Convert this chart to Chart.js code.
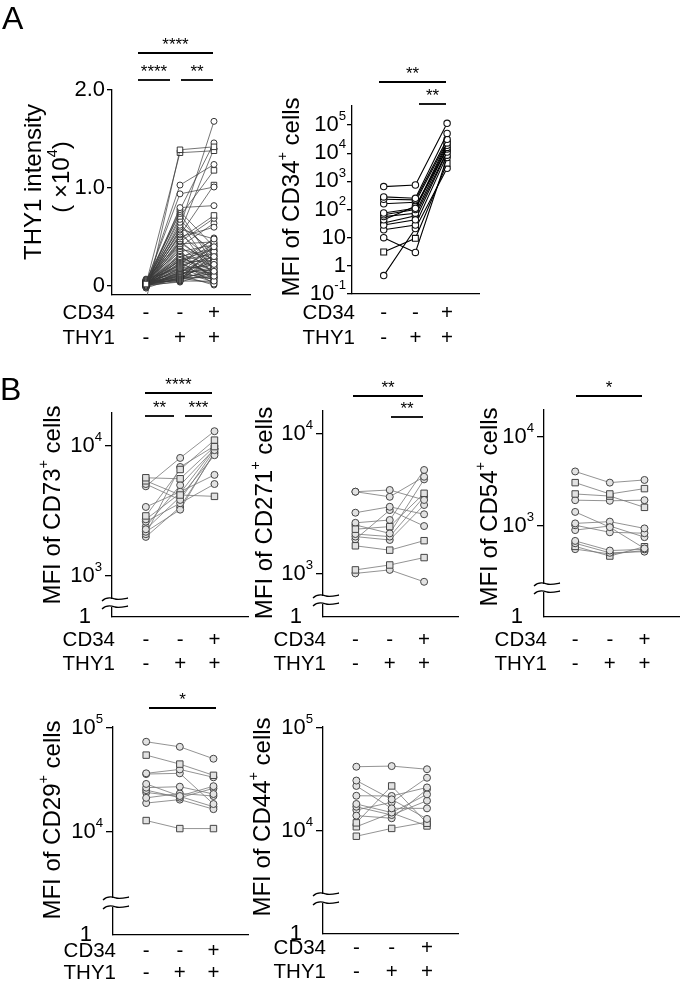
<!DOCTYPE html>
<html lang="en">
<head>
<meta charset="UTF-8">
<title>THY1 / CD34 MFI panels</title>
<script src="https://cdn.jsdelivr.net/npm/chart.js"></script>
<style>
  body { margin: 0; background: #fff; }
  #page { position: relative; width: 685px; height: 982px; overflow: hidden; }
  .panel { position: absolute; }
</style>
</head>
<body>
<div id="page"></div>
<script>
const FONT = "'Liberation Sans', Arial, Helvetica, sans-serif"

// ---------- data ----------
const cd34Row = ['-', '-', '+']
const thy1Row = ['-', '+', '+']

// A left: THY1 intensity (x10^4), one entry per sample
const thyNeg = [
  -0.15, 0.02, 0.01, 0.03, 0.00, 0.04, 0.02, 0.05, 0.01, 0.03,
  0.00, 0.02, 0.06, 0.01, 0.03, 0.04, 0.00, 0.02, 0.05, 0.01,
  0.03, -0.01, 0.02, 0.04, 0.00, 0.03, 0.01, 0.06, 0.02, 0.00,
  0.04, 0.01, 0.03, -0.02, 0.02, 0.05, 0.00, 0.03, 0.01, 0.04,
  0.02, 0.00, 0.07, 0.01, 0.03, 0.02, -0.01, 0.04, 0.00, 0.02,
  0.05, 0.01, 0.03, 0.00, 0.02, 0.04, 0.01, -0.02, 0.03, 0.02,
  0.00, 0.05, 0.01, 0.03, 0.02, 0.04, 0.00, 0.01, 0.03, 0.02,
  0.06, 0.01]
const thyMid = [
  1.39, 1.36, 1.03, 0.94, 0.80, 0.78, 0.76, 0.74, 0.71, 0.68,
  0.65, 0.62, 0.60, 0.58, 0.57, 0.55, 0.53, 0.52, 0.50, 0.48,
  0.46, 0.45, 0.43, 0.41, 0.40, 0.38, 0.36, 0.35, 0.33, 0.32,
  0.30, 0.29, 0.28, 0.27, 0.26, 0.25, 0.24, 0.23, 0.22, 0.21,
  0.20, 0.19, 0.18, 0.18, 0.17, 0.16, 0.15, 0.15, 0.14, 0.13,
  0.13, 0.12, 0.12, 0.11, 0.11, 0.10, 0.10, 0.09, 0.09, 0.08,
  0.08, 0.07, 0.07, 0.06, 0.06, 0.05, 0.05, 0.04, 0.22, 0.31,
  0.44, 0.27]
const thyPos = [
  1.42, 1.38, 1.24, 1.01, 0.82, 1.46, 0.40, 0.22, 1.18, 0.30,
  0.15, 0.35, 1.68, 0.48, 0.10, 1.40, 0.25, 1.03, 0.60, 0.72,
  0.18, 0.69, 0.45, 0.12, 0.64, 0.28, 0.05, 0.42, 0.20, 0.08,
  0.38, 0.16, 0.47, 0.11, 0.33, 0.02, 0.26, 0.43, 0.14, 0.30,
  0.09, 0.36, 0.21, 0.06, 0.40, 0.13, 0.24, 0.04, 0.31, 0.17,
  0.07, 0.44, 0.19, 0.01, 0.28, 0.12, 0.35, 0.08, 0.23, 0.15,
  0.03, 0.27, 0.10, 0.41, 0.18, 0.05, 0.32, 0.14, 0.49, 0.09,
  0.22, 0.37]
const thyShape = ('ssccccccsc' + 'cccccccscs' + 'c'.repeat(52)).split('')

// A right: MFI of CD34+ cells
const cd34Neg = [650, 280, 230, 75, 65, 56, 43, 28, 19, 10, 3.1, 0.45, 160, 33]
const cd34Mid = [740, 250, 220, 110, 100, 74, 130, 43, 28, 3.0, 9.5, 21, 180, 60]
const cd34Pos = [115000, 50000, 31000, 23000, 19000, 16000, 14000, 11000, 8500, 7000, 4400, 2900, 26000, 12000]
const cd34Shape = 'ccccccccccsccc'.split('')

// B: MFI of CD73+ cells
const cd73Neg = [5700, 5400, 2900, 5100, 4900, 3400, 2730, 2620, 2290, 2190, 2100, 2000, 2400]
const cd73Mid = [5600, 4200, 6600, 3850, 8100, 4450, 4330, 3630, 4070, 3240, 6900, 3400, 5000]
const cd73Pos = [9900, 4100, 11100, 9300, 13000, 6000, 9600, 5100, 8500, 9000, 10000, 8800, 9500]
const cd73Shape = 'ssscccccccccc'.split('')

// B: MFI of CD271+ cells
const cd271Neg = [3870, 3870, 2740, 1590, 1070, 2090, 2320, 2240, 1930, 1850, 1770, 1010]
const cd271Mid = [3980, 3560, 3020, 1480, 1160, 2180, 2430, 1950, 1850, 1750, 2860, 1070]
const cd271Pos = [3380, 4950, 2670, 1730, 1310, 3770, 5530, 4740, 3560, 3110, 2200, 880]
const cd271Shape = 'cccssscccccc'.split('')

// B: MFI of CD54+ cells
const cd54Neg = [4100, 3070, 2290, 1950, 1440, 1070, 1020, 900, 680, 640, 590, 550]
const cd54Mid = [3070, 2290, 2170, 1920, 970, 1120, 850, 1000, 530, 500, 460, 485]
const cd54Pos = [3290, 2630, 1620, 1950, 560, 940, 830, 750, 547, 515, 585, 530]
const cd54Shape = 'csscccccccsc'.split('')

// B: MFI of CD29+ cells
const cd29Neg = [73800, 54900, 36700, 36100, 29000, 26700, 25300, 21300, 19000, 12900, 24000]
const cd29Mid = [66000, 45000, 40000, 36700, 22200, 27300, 21400, 23500, 20500, 10800, 22000]
const cd29Pos = [50700, 35100, 33600, 18600, 27600, 23200, 26300, 22200, 16600, 10800, 17500]
const cd29Shape = 'cscccccccsc'.split('')

// B: MFI of CD44+ cells
const cd44Neg = [42100, 30900, 27400, 22000, 18300, 17200, 14100, 12000, 11000, 8900, 16000]
const cd44Mid = [42700, 20300, 16600, 21900, 15100, 14300, 13300, 27400, 15000, 10600, 19000]
const cd44Pos = [39800, 13100, 16600, 26500, 22700, 19700, 25400, 11900, 11200, 12200, 32900]
const cd44Shape = 'cccccccsssc'.split('')

// ---------- drawing helpers ----------
const page = document.getElementById('page')
const font = (size) => `${size}px ${FONT}`
const TICK = 22, ROW = 20.5, TITLE = 24, STAR = 17

// parts: [[text], [text, true(superscript)], ...]
function rich(ctx, parts, x, y, size, align) {
  const sup = size * 0.6
  let w = 0
  parts.forEach(p => { ctx.font = font(p[1] ? sup : size); w += ctx.measureText(p[0]).width })
  let cx = align === 'right' ? x - w : align === 'center' ? x - w / 2 : x
  ctx.textAlign = 'left'
  parts.forEach(p => {
    ctx.font = font(p[1] ? sup : size)
    ctx.fillText(p[0], cx, p[1] ? y - size * 0.38 : y)
    cx += ctx.measureText(p[0]).width
  })
}

const pow10 = e => e === 0 ? [['1']] : e === 1 ? [['10']] : [['10'], [String(e), true]]

function decorate(chart, cfg) {
  const { ctx, chartArea: a } = chart
  const xs = chart.scales.x, ys = chart.scales.y
  const [ox, oy] = cfg.box
  const left = a.left + ox, bottom = a.bottom + oy
  ctx.save()
  ctx.translate(-ox, -oy)
  ctx.fillStyle = '#000'
  ctx.strokeStyle = '#000'
  ctx.textBaseline = 'middle'

  // y tick labels
  cfg.yTicks.forEach((v, i) => {
    rich(ctx, cfg.yLabels[i], left - cfg.labelGap, ys.getPixelForValue(v) + oy, TICK, 'right')
  })
  if (cfg.floorLabel) rich(ctx, [[cfg.floorLabel]], left - 21, bottom, TICK, 'right')

  // axis break
  if (cfg.breakY) {
    const [y1, y2] = cfg.breakY
    ctx.fillStyle = '#fff'
    ctx.fillRect(left - 2, y1, 4, y2 - y1)
    ctx.fillStyle = '#000'
    ctx.lineWidth = 1.3
    ;[y1, y2].forEach(y => {
      ctx.beginPath()
      ctx.moveTo(left - 10, y + 2)
      ctx.bezierCurveTo(left - 5, y - 3, left, y - 1, left + 3, y)
      ctx.bezierCurveTo(left + 7, y + 1, left + 11, y, left + 16, y - 1)
      ctx.stroke()
    })
  }

  // category rows
  const rows = [['CD34', cd34Row], ['THY1', thy1Row]]
  rows.forEach(([name, signs], r) => {
    const y = cfg.rows[r]
    ctx.font = font(ROW)
    ctx.textAlign = 'right'
    ctx.fillText(name, left + 3, y)
    ctx.textAlign = 'center'
    signs.forEach((s, i) => ctx.fillText(s, xs.getPixelForValue(i) + ox, y))
  })

  // y title (rotated)
  cfg.titles.forEach(t => {
    ctx.save()
    ctx.translate(t.x, t.y)
    ctx.rotate(-Math.PI / 2)
    rich(ctx, t.parts, 0, 0, TITLE, 'center')
    ctx.restore()
  })

  // significance brackets
  ctx.lineWidth = 1.8
  cfg.sig.forEach(s => {
    ctx.beginPath()
    ctx.moveTo(s[0], s[2])
    ctx.lineTo(s[1], s[2])
    ctx.stroke()
    ctx.font = font(STAR)
    ctx.textAlign = 'center'
    ctx.textBaseline = 'alphabetic'
    ctx.fillText(s[3], (s[0] + s[1]) / 2, s[2] - 3)
    ctx.textBaseline = 'middle'
  })

  // panel letter
  if (cfg.letter) {
    ctx.font = font(32)
    ctx.textAlign = 'left'
    ctx.textBaseline = 'alphabetic'
    ctx.fillText(cfg.letter[0], cfg.letter[1], cfg.letter[2])
  }
  ctx.restore()
}

function panel(cfg) {
  const [bx, by, bw, bh] = cfg.box
  const [l, t, r, b] = cfg.area
  const div = document.createElement('div')
  div.className = 'panel'
  div.style.left = bx + 'px'
  div.style.top = by + 'px'
  div.style.width = bw + 'px'
  div.style.height = bh + 'px'
  const canvas = document.createElement('canvas')
  canvas.width = bw
  canvas.height = bh
  div.appendChild(canvas)
  page.appendChild(div)

  const datasets = cfg.neg.map((v, i) => {
    const sq = cfg.shape[i] === 's'
    return {
      data: [{ x: 0, y: v }, { x: 1, y: cfg.mid[i] }, { x: 2, y: cfg.pos[i] }],
      borderColor: cfg.style.line,
      borderWidth: cfg.style.lineWidth,
      pointStyle: sq ? 'rect' : 'circle',
      pointRadius: sq ? cfg.style.r * 1.3 : cfg.style.r,
      pointBorderColor: cfg.style.mark,
      pointBackgroundColor: cfg.style.fill,
      pointBorderWidth: cfg.style.markWidth,
      tension: 0,
      fill: false
    }
  })

  new Chart(canvas, {
    type: 'line',
    data: { datasets },
    options: {
      responsive: false,
      animation: false,
      layout: { padding: { left: l - bx, top: t - by, right: bx + bw - r, bottom: by + bh - b } },
      plugins: { legend: { display: false }, tooltip: { enabled: false } },
      scales: {
        x: {
          type: 'linear', min: cfg.xRange[0], max: cfg.xRange[1],
          grid: { display: false },
          ticks: { display: false },
          border: { display: true, color: '#000', width: 1.3 },
          afterFit: s => { s.height = 0 }
        },
        y: {
          type: cfg.log ? 'logarithmic' : 'linear',
          min: cfg.yRange[0], max: cfg.yRange[1],
          grid: { drawOnChartArea: false, drawTicks: true, tickLength: cfg.tickLen, color: '#000', lineWidth: 1.3 },
          ticks: { display: false },
          border: { display: true, color: '#000', width: 1.3 },
          afterBuildTicks: s => { s.ticks = cfg.yTicks.map(v => ({ value: v })) },
          afterFit: s => { s.width = 0 }
        }
      }
    },
    plugins: [{ id: 'decor', afterDraw: chart => decorate(chart, cfg) }]
  })
}

const styleA1 = { line: '#3a3a3a', lineWidth: 0.7, mark: '#222', fill: '#fff', r: 3, markWidth: 0.9 }
const styleA2 = { line: '#000', lineWidth: 1.1, mark: '#111', fill: '#fff', r: 3.2, markWidth: 1.1 }
const styleB = { line: '#777', lineWidth: 0.8, mark: '#444', fill: '#e2e2e2', r: 3.5, markWidth: 1 }
const mfiTitle = (cd) => [{ x: 0, y: 0, parts: [['MFI of ' + cd], ['+', true], [' cells']] }]
const place = (t, x, y) => t.map(o => ({ ...o, x, y }))

// A left
panel({
  box: [0, 0, 262, 350], area: [112, 90, 250, 295],
  neg: thyNeg, mid: thyMid, pos: thyPos, shape: thyShape, style: styleA1,
  log: false, yRange: [-0.092, 2.0], xRange: [-1.0, 3.06],
  yTicks: [0, 1, 2], yLabels: [[['0']], [['1.0']], [['2.0']]], labelGap: 7, tickLen: 5,
  rows: [313, 338],
  titles: [
    { x: 34, y: 182, parts: [['THY1 intensity']] },
    { x: 62, y: 177, parts: [['( \u00d710'], ['4', true], [')']] }
  ],
  sig: [[138, 213, 53, '****'], [138, 170, 80, '****'], [181, 213, 80, '**']],
  letter: ['A', 2, 29]
})

// A right
panel({
  box: [262, 50, 223, 300], area: [352, 106, 481, 294],
  neg: cd34Neg, mid: cd34Mid, pos: cd34Pos, shape: cd34Shape, style: styleA2,
  log: true, yRange: [0.1, Math.pow(10, 5.674)], xRange: [-1.0, 3.03],
  yTicks: [1e5, 1e4, 1e3, 1e2, 10, 1, 0.1], yLabels: [5, 4, 3, 2, 1, 0, -1].map(pow10), labelGap: 6, tickLen: 5,
  rows: [313, 338],
  titles: place(mfiTitle('CD34'), 292, 197),
  sig: [[379, 446, 82, '**'], [419, 446, 104, '**']]
})

// B row 1
panel({
  box: [0, 360, 254, 320], area: [112, 413, 249, 617],
  neg: cd73Neg, mid: cd73Mid, pos: cd73Pos, shape: cd73Shape, style: styleB,
  log: true, yRange: [Math.pow(10, 2.685), Math.pow(10, 4.254)], xRange: [-0.986, 2.99],
  yTicks: [1e3, 1e4], yLabels: [3, 4].map(pow10), labelGap: 10, tickLen: 7,
  floorLabel: '1', breakY: [599, 607],
  rows: [640, 664],
  titles: place(mfiTitle('CD73'), 53, 505),
  sig: [[145, 212, 393, '****'], [145, 174, 416, '**'], [185, 212, 416, '***']],
  letter: ['B', 0, 400]
})

panel({
  box: [232, 370, 232, 310], area: [323, 411, 461, 617],
  neg: cd271Neg, mid: cd271Mid, pos: cd271Pos, shape: cd271Shape, style: styleB,
  log: true, yRange: [Math.pow(10, 2.693), Math.pow(10, 4.164)], xRange: [-0.943, 3.0],
  yTicks: [1e3, 1e4], yLabels: [3, 4].map(pow10), labelGap: 10, tickLen: 7,
  floorLabel: '1', breakY: [596, 604],
  rows: [640, 664],
  titles: place(mfiTitle('CD271'), 265, 513),
  sig: [[353, 423, 396, '**'], [391, 423, 417, '**']]
})

panel({
  box: [464, 370, 221, 310], area: [544, 410, 683, 617],
  neg: cd54Neg, mid: cd54Mid, pos: cd54Pos, shape: cd54Shape, style: styleB,
  log: true, yRange: [Math.pow(10, 1.978), Math.pow(10, 4.303)], xRange: [-0.90, 3.01],
  yTicks: [1e3, 1e4], yLabels: [3, 4].map(pow10), labelGap: 10, tickLen: 7,
  floorLabel: '1', breakY: [584, 592],
  rows: [640, 664],
  titles: place(mfiTitle('CD54'), 490, 507),
  sig: [[576, 642, 396, '*']]
})

// B row 2
panel({
  box: [0, 680, 254, 302], area: [113, 727, 252, 935],
  neg: cd29Neg, mid: cd29Mid, pos: cd29Pos, shape: cd29Shape, style: styleB,
  log: true, yRange: [Math.pow(10, 3.01), Math.pow(10, 5.01)], xRange: [-0.986, 3.04],
  yTicks: [1e4, 1e5], yLabels: [4, 5].map(pow10), labelGap: 10, tickLen: 7,
  floorLabel: '1', breakY: [898, 907],
  rows: [951, 973],
  titles: place(mfiTitle('CD29'), 53, 820),
  sig: [[149, 216, 708, '*']]
})

panel({
  box: [232, 680, 232, 302], area: [323, 727, 461, 934],
  neg: cd44Neg, mid: cd44Mid, pos: cd44Pos, shape: cd44Shape, style: styleB,
  log: true, yRange: [Math.pow(10, 3.0), Math.pow(10, 5.01)], xRange: [-0.944, 2.89],
  yTicks: [1e4, 1e5], yLabels: [4, 5].map(pow10), labelGap: 10, tickLen: 7,
  floorLabel: '1', breakY: [894, 903],
  rows: [948, 972],
  titles: place(mfiTitle('CD44'), 263, 817),
  sig: []
})
</script>
</body>
</html>
